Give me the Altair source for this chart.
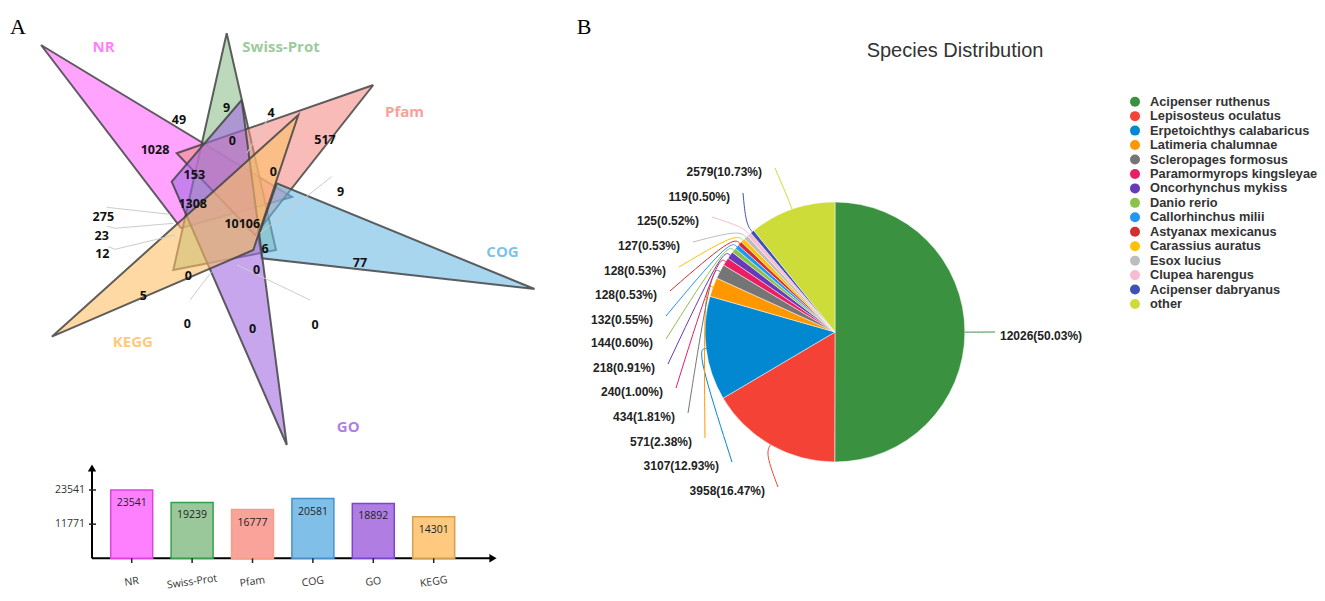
import altair as alt
import pandas as pd
import numpy as np

# ---------------- Panel A data ----------------
set_names = ["NR", "Swiss-Prot", "Pfam", "COG", "GO", "KEGG"]
set_totals = [23541, 19239, 16777, 20581, 18892, 14301]
ytick_values = [11771, 23541]

venn_counts = [49, 9, 4, 517, 1028, 0, 153, 0, 9, 1308, 10106, 275, 23, 12, 6, 77, 0, 0, 5, 0, 0, 0]

# ---------------- Panel B data ----------------
species = ["Acipenser ruthenus", "Lepisosteus oculatus", "Erpetoichthys calabaricus",
           "Latimeria chalumnae", "Scleropages formosus", "Paramormyrops kingsleyae",
           "Oncorhynchus mykiss", "Danio rerio", "Callorhinchus milii", "Astyanax mexicanus",
           "Carassius auratus", "Esox lucius", "Clupea harengus", "Acipenser dabryanus", "other"]
species_counts = [12026, 3958, 3107, 571, 434, 240, 218, 144, 132, 128, 128, 127, 125, 119, 2579]

# ---------------- styles ----------------
venn_fill = ["#ff66ff", "#8fc08f", "#f38e89", "#6cbbe3", "#a36be3", "#fdc066"]
venn_label_color = ["#ff80ff", "#9ccb9c", "#f8a19a", "#7dc3e8", "#b07fe3", "#ffc97d"]
bar_fill = ["#ff80ff", "#9bc89b", "#f9a39a", "#80c0e8", "#b07ee3", "#ffc97f"]
bar_stroke = ["#dd44dd", "#33a04f", "#f4a08a", "#4a90c8", "#7b45cc", "#d4a055"]
species_colors = ["#3a913f", "#f44336", "#0288d1", "#ff9800", "#757575", "#e91e63",
                  "#673ab7", "#8bc34a", "#2196f3", "#d32f2f", "#ffc107", "#bdbdbd",
                  "#f8bbd0", "#3f51b5", "#cddc39"]

# ---------------- layout (image pixel frame) ----------------
venn_shape_x = [[41, 292, 181], [226.7, 173.3, 276], [373.3, 176.7, 255],
                [534.6, 276.7, 258.3, 261.7], [241.7, 171.7, 286.8], [51.8, 298.3, 253.3]]
venn_shape_y = [[45, 197, 228], [33.3, 270, 250], [85, 153.3, 235],
                [289, 183.3, 236.7, 258.3], [100, 181.7, 445], [336.7, 115, 250]]
venn_count_x = [179, 226.7, 271, 325, 155, 232.3, 194.3, 273.3, 340.7, 192.7, 242.3,
                103.3, 101.7, 102.3, 265, 360, 256.7, 188.3, 143.3, 187.3, 252.7, 315]
venn_count_y = [120, 108.3, 112.7, 140, 150, 141, 175, 172.3, 191.7, 204, 224,
                216.7, 236, 254.3, 249, 262.7, 270, 275.7, 295.7, 324.3, 329, 325]
set_label_x = [103.6, 281, 404.6, 502.5, 348.2, 132.9]
set_label_y = [46.7, 46.7, 111.7, 252.3, 427.3, 341.7]
leader_pts = [
    [(106.7, 207.3), (170, 214.3)],
    [(106.7, 226), (115, 228.3), (173.3, 223.3)],
    [(108.3, 246.7), (115, 249.3), (175, 235)],
    [(331.7, 176.7), (260, 233.3)],
    [(268.3, 118.3), (246.7, 153.3)],
    [(190, 300), (211.7, 271.7)],
    [(310, 300), (237, 265)],
]
pie_label_end = [(995, 332), (778, 487), (732, 462), (705, 438), (688, 413), (676, 388),
                 (668, 364), (666, 339), (666, 316), (670, 291), (679, 267), (693, 242),
                 (712, 217), (743, 193), (775, 168)]
PIE_CX, PIE_CY, PIE_R = 835, 332, 130

CX = alt.Scale(domain=[8, 1317], range=[0, 1309])
CY = alt.Scale(domain=[8, 593], range=[0, 585])


def xy(xf="x", yf="y"):
    return dict(x=alt.X(f"{xf}:Q", scale=CX, axis=None),
                y=alt.Y(f"{yf}:Q", scale=CY, axis=None))


# ---------------- Venn group ----------------
venn_layers = []
for i, name in enumerate(set_names):
    xs = venn_shape_x[i] + [venn_shape_x[i][0]]
    ys = venn_shape_y[i] + [venn_shape_y[i][0]]
    df = pd.DataFrame({"x": xs, "y": ys, "k": list(range(len(xs)))})
    venn_layers.append(
        alt.Chart(df).mark_line(fill=venn_fill[i], fillOpacity=0.6, stroke="#444444",
                                strokeWidth=2, strokeOpacity=0.85, strokeJoin="miter")
        .encode(order="k:Q", **xy())
    )

lead_rows = []
for j, pts in enumerate(leader_pts):
    for k, (px, py) in enumerate(pts):
        lead_rows.append({"id": j, "k": k, "x": px, "y": py})
leaders = alt.Chart(pd.DataFrame(lead_rows)).mark_line(color="#cccccc", strokeWidth=1).encode(
    detail="id:N", order="k:Q", **xy())

counts_df = pd.DataFrame({"n": [str(v) for v in venn_counts], "x": venn_count_x, "y": venn_count_y})
counts_txt = alt.Chart(counts_df).mark_text(font="Open Sans", fontWeight="bold", fontSize=12.5,
                                            color="#111111").encode(text="n:N", **xy())

set_df = pd.DataFrame({"s": set_names, "x": set_label_x, "y": set_label_y, "c": venn_label_color})
set_txt = alt.Chart(set_df).mark_text(font="Open Sans", fontWeight="bold", fontSize=15).encode(
    text="s:N", color=alt.Color("c:N", scale=None), **xy())

# axes decoration for the bar chart
axis_df = pd.DataFrame({"x": [92, 92], "y": [558.3, 558.3], "x2": [92, 490], "y2": [470, 558.3]})
axis_lines = alt.Chart(axis_df).mark_rule(color="black", strokeWidth=2).encode(
    x2="x2:Q", y2="y2:Q", **xy())
arrow_up = alt.Chart(pd.DataFrame({"x": [92], "y": [468]})).mark_point(
    shape="triangle-up", filled=True, size=70, color="black", opacity=1).encode(**xy())
arrow_right = alt.Chart(pd.DataFrame({"x": [493], "y": [558.3]})).mark_point(
    shape="triangle-right", filled=True, size=70, color="black", opacity=1).encode(**xy())

letters = alt.Chart(pd.DataFrame({"t": ["A", "B"], "x": [18, 584], "y": [27, 27]})).mark_text(
    font="Liberation Serif", fontSize=22, color="black").encode(text="t:N", **xy())
title = alt.Chart(pd.DataFrame({"t": ["Species Distribution"], "x": [955], "y": [51]})).mark_text(
    font="Liberation Sans", fontSize=20, color="#333333").encode(text="t:N", **xy())

venn_group = alt.layer(*venn_layers, leaders, counts_txt, set_txt, axis_lines, arrow_up,
                       arrow_right, letters, title)

# ---------------- Bar group ----------------
BX = alt.Scale(domain=set_names, range=[93.5, 455.9], paddingInner=0.305, paddingOuter=0.1525)
BY = alt.Scale(domain=[0, 23541], range=[550.3, 482], nice=False, zero=True)
bar_df = pd.DataFrame({"set": set_names, "total": set_totals, "lab": [str(v) for v in set_totals],
                       "fill": bar_fill, "stroke": bar_stroke})
bx = alt.X("set:N", scale=BX, axis=None, sort=set_names)
bars = alt.Chart(bar_df).mark_bar(strokeWidth=1.5).encode(
    x=bx, y=alt.Y("total:Q", scale=BY, axis=None),
    fill=alt.Fill("fill:N", scale=None), stroke=alt.Stroke("stroke:N", scale=None))
bar_txt = alt.Chart(bar_df).mark_text(dy=13, fontSize=10.5, font="Open Sans", color="#222222").encode(
    x=bx, y=alt.Y("total:Q", scale=BY, axis=None), text="lab:N")
bar_xlab = alt.Chart(bar_df).mark_text(fontSize=10.5, font="Open Sans", color="#333333", angle=352).encode(
    x=bx, y=alt.value(574), text="set:N")
bar_xtick = alt.Chart(bar_df).mark_rule(color="#222222", strokeWidth=1.5).encode(
    x=bx, y=alt.value(550.3), y2=alt.value(555))
ytick_df = pd.DataFrame({"v": ytick_values, "lab": [str(v) for v in ytick_values]})
ytick_rule = alt.Chart(ytick_df).mark_rule(color="#222222", strokeWidth=1.5).encode(
    y=alt.Y("v:Q", scale=BY, axis=None), x=alt.value(81), x2=alt.value(88))
ytick_txt = alt.Chart(ytick_df).mark_text(align="right", fontSize=10.5, font="Open Sans",
                                          color="#333333").encode(
    y=alt.Y("v:Q", scale=BY, axis=None), x=alt.value(77), text="lab:N")
bar_group = alt.layer(bars, bar_txt, bar_xlab, bar_xtick, ytick_rule, ytick_txt)

# ---------------- Pie group ----------------
counts = np.array(species_counts, dtype=float)
total = counts.sum()
cum = np.concatenate([[0], np.cumsum(counts)[:-1]])
mid = (cum + counts / 2) / total * 2 * np.pi
pie_df = pd.DataFrame({"species": species, "count": species_counts, "idx": range(len(species)),
                       "label": [f"{v}({v / total * 100:.2f}%)" for v in species_counts]})
CS = alt.Scale(domain=species, range=species_colors)
arcs = alt.Chart(pie_df).mark_arc(radius=PIE_R, stroke="white", strokeWidth=0.5).encode(
    theta=alt.Theta("count:Q", stack=True),
    color=alt.Color("species:N", scale=CS, legend=None),
    order=alt.Order("idx:Q"),
    x=alt.value(PIE_CX - 8), y=alt.value(PIE_CY - 8))

line_rows = []
for i, sp in enumerate(species):
    s, c = np.sin(mid[i]), np.cos(mid[i])
    pts = [(PIE_CX + PIE_R * s, PIE_CY - PIE_R * c),
           (PIE_CX + (PIE_R + 10) * s, PIE_CY - (PIE_R + 10) * c),
           pie_label_end[i]]
    for k, (px, py) in enumerate(pts):
        line_rows.append({"species": sp, "k": k, "x": px, "y": py})
pie_lines = alt.Chart(pd.DataFrame(line_rows)).mark_line(interpolate="basis", strokeWidth=1).encode(
    color=alt.Color("species:N", scale=CS, legend=None), detail="species:N", order="k:Q", **xy())

lab_df = pie_df.copy()
lab_df["x"] = [p[0] for p in pie_label_end]
lab_df["y"] = [p[1] for p in pie_label_end]
left_labels = alt.Chart(lab_df[lab_df.idx > 0]).mark_text(
    align="right", dx=-13, dy=3.5, font="Liberation Sans", fontWeight="bold", fontSize=12,
    color="#222222").encode(text="label:N", **xy())
right_labels = alt.Chart(lab_df[lab_df.idx == 0]).mark_text(
    align="left", dx=5, dy=4, font="Liberation Sans", fontWeight="bold", fontSize=12,
    color="#222222").encode(text="label:N", **xy())

leg_df = pd.DataFrame({"species": species, "x": 1135.0,
                       "y": [101.7 + i * 14.45 for i in range(len(species))]})
leg_dots = alt.Chart(leg_df).mark_circle(size=100, opacity=1).encode(
    color=alt.Color("species:N", scale=CS, legend=None), **xy())
leg_txt = alt.Chart(leg_df).mark_text(align="left", dx=15, font="Liberation Sans", fontWeight="bold",
                                      fontSize=12.8, color="#333333").encode(text="species:N", **xy())
pie_group = alt.layer(arcs, pie_lines, left_labels, right_labels, leg_dots, leg_txt)

chart = alt.layer(venn_group, bar_group, pie_group).resolve_scale(
    x="independent", y="independent", color="independent"
).properties(
    width=1309, height=585, padding=0, autosize=alt.AutoSizeParams(type="none")
).configure_view(stroke=None)

chart.save("out.html", embed_options={"renderer": "svg", "actions": False})
